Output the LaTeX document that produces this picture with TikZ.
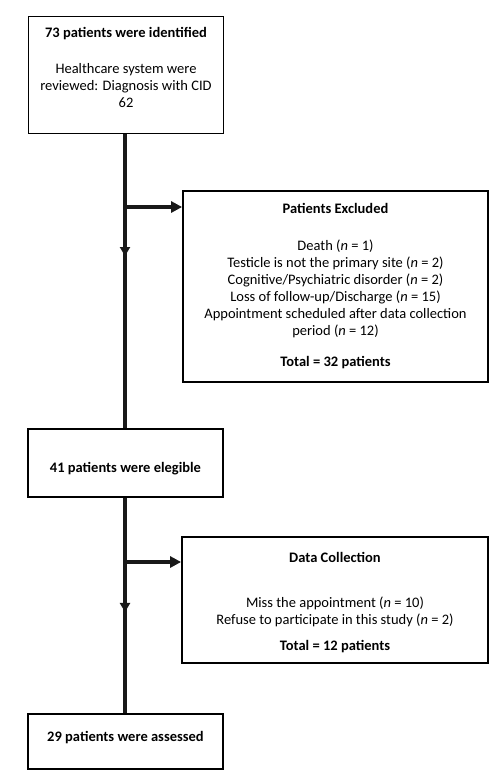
\documentclass[tikz,border=0pt]{standalone}
\usepackage{fontspec}
\setmainfont{Carlito}
\usetikzlibrary{arrows.meta,decorations.markings}
\begin{document}
\begin{tikzpicture}[x=1pt,y=-1pt,
  box/.style={draw=black,line width=1.8pt,align=center,inner sep=0pt,font=\fontsize{14.5}{17}\selectfont},
  flow/.style={line width=4.5pt,draw=black!90},
  midarrow/.style={postaction={decorate},decoration={markings,mark=at position #1 with {\arrow{Triangle[length=9pt,width=10pt]}}}},
  side/.style={line width=4pt,draw=black!90,-{Triangle[length=11pt,width=11pt]}}]
\useasboundingbox (0,0) rectangle (495,776);
\node[box,minimum width=195pt,minimum height=117pt] (b1) at (126,75)
  {\textbf{73 patients were identified}\\[19pt]Healthcare system were\\reviewed: Diagnosis with CID\\62\rule[-15pt]{0pt}{15pt}};
\node[box,minimum width=305pt,minimum height=191pt] (b2) at (335.5,286.5)
  {\textbf{Patients Excluded}\\[20pt]Death (\textit{n} = 1)\\Testicle is not the primary site (\textit{n} = 2)\\Cognitive/Psychiatric disorder (\textit{n} = 2)\\Loss of follow-up/Discharge (\textit{n} = 15)\\Appointment scheduled after data collection\\period (\textit{n} = 12)\\[14pt]\textbf{Total = 32 patients}};
\node[box,minimum width=195pt,minimum height=68pt] (b3) at (125.5,463)
  {\rule{0pt}{22pt}\textbf{41 patients were elegible}};
\node[box,minimum width=306pt,minimum height=126pt] (b4) at (335,600)
  {\rule{0pt}{16pt}\textbf{Data Collection}\\[28pt]Miss the appointment (\textit{n} = 10)\\Refuse to participate in this study (\textit{n} = 2)\\[9pt]\textbf{Total = 12 patients}};
\node[box,minimum width=195pt,minimum height=55pt] (b5) at (125.5,741.5)
  {\raisebox{10pt}{\textbf{29 patients were assessed}}};
\coordinate (t1) at (125,134);
\coordinate (e1) at (125,428);
\coordinate (t3) at (125,498);
\coordinate (e3) at (125,713);
\draw[flow,midarrow=0.415] (t1) -- (e1);
\draw[flow,midarrow=0.53] (t3) -- (e3);
\coordinate (s1) at (125,207);
\coordinate (s2) at (125,562);
\draw[side] (s1) -- (b2.west |- s1);
\draw[side] (s2) -- (b4.west |- s2);
\end{tikzpicture}
\end{document}
